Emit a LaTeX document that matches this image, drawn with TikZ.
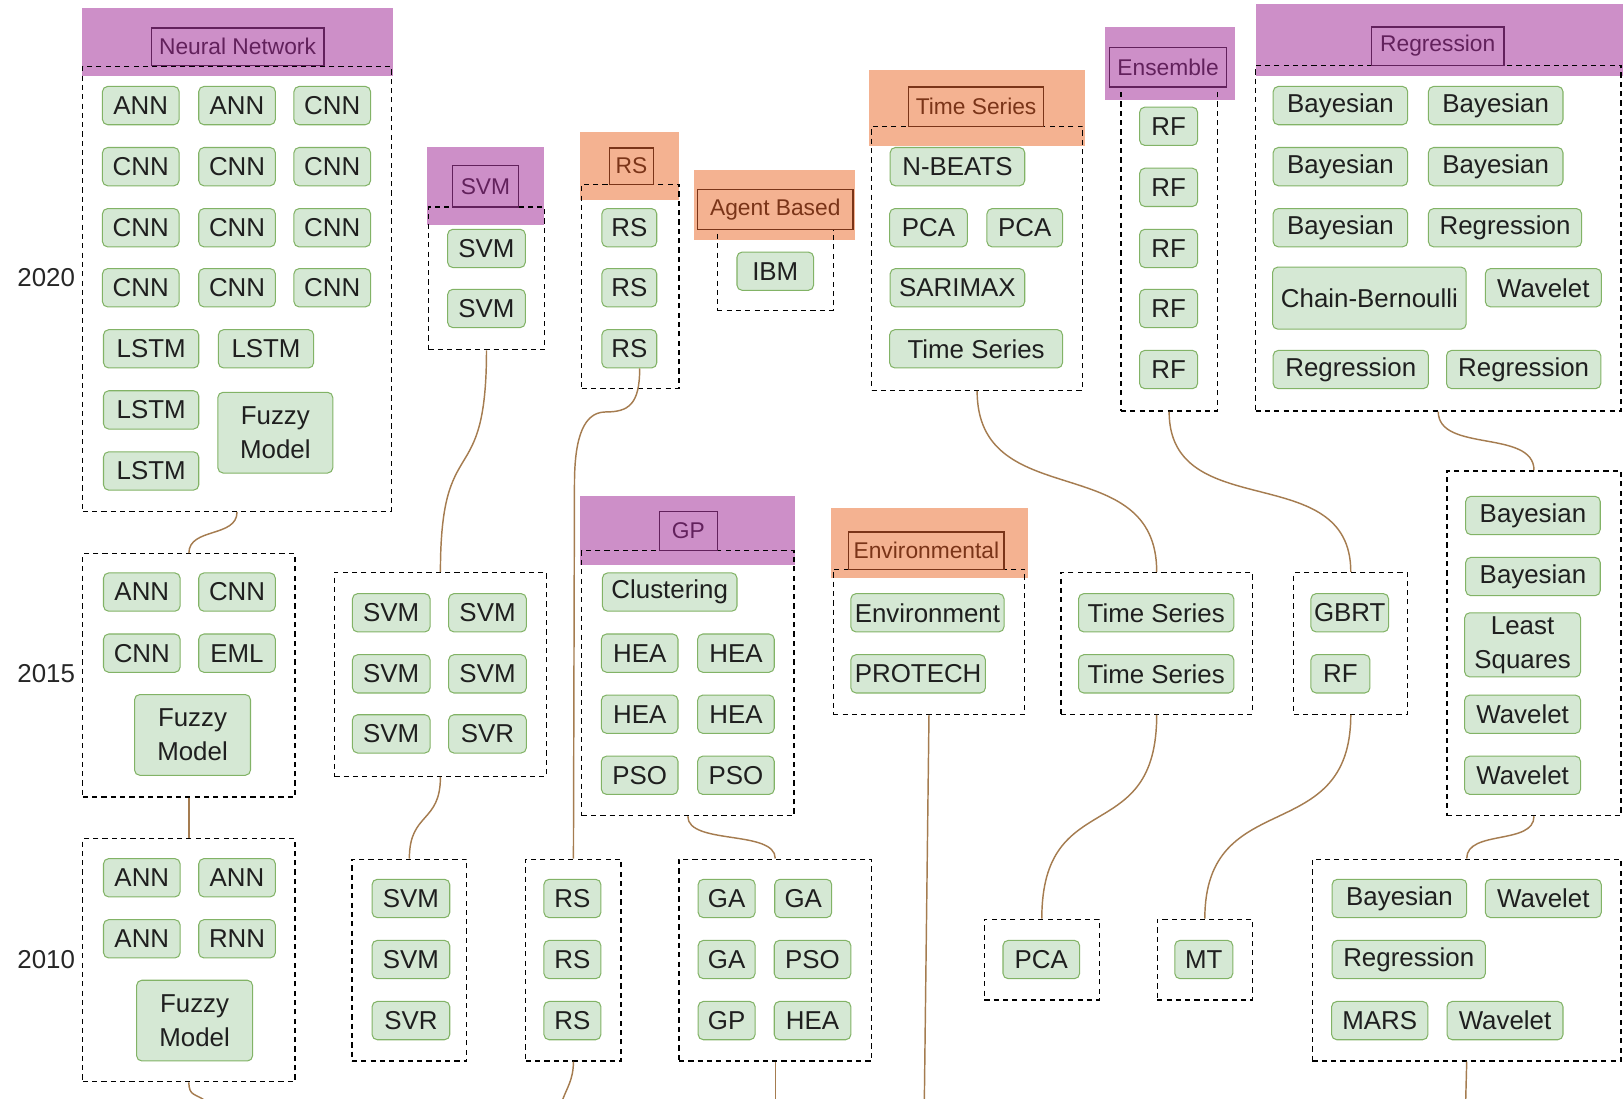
\documentclass[tikz,border=0pt]{standalone}
\usepackage{fontspec}
\setmainfont{Liberation Sans}
\usetikzlibrary{positioning}

\definecolor{lilac}{HTML}{CD8FC8}
\definecolor{salmon}{HTML}{F4B291}
\definecolor{plum}{HTML}{62215C}
\definecolor{rust}{HTML}{7A3418}
\definecolor{leaf}{HTML}{D5E8D4}
\definecolor{leafline}{HTML}{82B366}
\definecolor{twig}{HTML}{A57C50}

\tikzset{
  item/.style={draw=leafline, fill=leaf, rounded corners=5pt, line width=1pt,
    minimum width=#1, minimum height=37, inner sep=0pt, text=black!88,
    font=\fontsize{25}{33}\selectfont, align=center},
  item/.default=74,
  group/.style={draw, dash pattern=on 5pt off 4pt, line width=1.2pt, inner sep=0pt},
  title/.style={draw=#1, text=#1, line width=1.2pt, inner sep=0pt,
    font=\fontsize{22}{24}\selectfont},
  link/.style={draw=twig, line width=1.4pt},
  year/.style={anchor=east, font=\fontsize{25}{27}\selectfont, text=black!85}
}

\begin{document}
\begin{tikzpicture}[x=1pt, y=-1pt]
\useasboundingbox (0,0) rectangle (1568,1061);

\fill[lilac] (79,8) rectangle (380,73);
\fill[lilac] (413,142) rectangle (526,217);
\fill[salmon] (560,128) rectangle (656,193);
\fill[salmon] (670,164) rectangle (826,232);
\fill[salmon] (840,68) rectangle (1048,141);
\fill[lilac] (1068,26) rectangle (1193,97);
\fill[lilac] (1213,4) rectangle (1568,73);
\fill[lilac] (560,479) rectangle (768,546);
\fill[salmon] (803,491) rectangle (993,558);

\node[group, minimum width=298, minimum height=430] (nn20) at (229,279) {};
\node[group, minimum width=112, minimum height=138] (svm20) at (470,269) {};
\node[group, minimum width=94, minimum height=197] (rs20) at (609,276.5) {};
\node[group, minimum width=112, minimum height=78] (ab20) at (749,261) {};
\node[group, minimum width=204, minimum height=255] (ts20) at (944,249.5) {};
\node[group, minimum width=93, minimum height=313] (en20) at (1129.5,240.5) {};
\node[group, minimum width=353, minimum height=334] (rg20) at (1389.5,230) {};
\node[group, minimum width=205, minimum height=235] (nn15) at (182.5,652.5) {};
\node[group, minimum width=205, minimum height=197] (svm15) at (425.5,651.5) {};
\node[group, minimum width=205, minimum height=256] (gp15) at (664.5,660) {};
\node[group, minimum width=185, minimum height=140] (env15) at (897.5,620) {};
\node[group, minimum width=185, minimum height=137] (ts15) at (1117.5,621.5) {};
\node[group, minimum width=110, minimum height=137] (gb15) at (1305,621.5) {};
\node[group, minimum width=168, minimum height=333] (rg15) at (1482,621.5) {};
\node[group, minimum width=205, minimum height=235] (nn10) at (182.5,927.5) {};
\node[group, minimum width=111, minimum height=195] (svm10) at (395.5,927.5) {};
\node[group, minimum width=92, minimum height=195] (rs10) at (554,927.5) {};
\node[group, minimum width=186, minimum height=195] (ga10) at (749,927.5) {};
\node[group, minimum width=111, minimum height=78] (pca10) at (1006.5,927) {};
\node[group, minimum width=92, minimum height=78] (mt10) at (1164,927) {};
\node[group, minimum width=298, minimum height=195] (rg10) at (1417,927.5) {};

\node[title=plum, minimum width=167, minimum height=36] (tnn) at (229.5,45) {Neural Network};
\node[title=plum, minimum width=64, minimum height=40] (tsvm) at (469,180) {SVM};
\node[title=rust, minimum width=42, minimum height=35] (trs) at (610,160.5) {RS};
\node[title=rust, minimum width=150, minimum height=39] (tab) at (749,202.5) {Agent Based};
\node[title=rust, minimum width=130, minimum height=38] (tts) at (943,103) {Time Series};
\node[title=plum, minimum width=113, minimum height=38] (ten) at (1128.5,65) {Ensemble};
\node[title=plum, minimum width=128, minimum height=37] (trg) at (1389,44.5) {Regression};
\node[title=plum, minimum width=56, minimum height=38] (tgp) at (665,513) {GP};
\node[title=rust, minimum width=150, minimum height=36] (tenv) at (895,532) {Environmental};

\node[item] (a1) at (136,102) {ANN};
\node[item] (a2) at (229,102) {ANN};
\node[item] (a3) at (321,102) {CNN};
\node[item] (a4) at (136,161) {CNN};
\node[item] (a5) at (229,161) {CNN};
\node[item] (a6) at (321,161) {CNN};
\node[item] (a7) at (136,220) {CNN};
\node[item] (a8) at (229,220) {CNN};
\node[item] (a9) at (321,220) {CNN};
\node[item] (a10) at (136,278) {CNN};
\node[item] (a11) at (229,278) {CNN};
\node[item] (a12) at (321,278) {CNN};
\node[item=92] (a13) at (146,337) {LSTM};
\node[item=92] (a14) at (257,337) {LSTM};
\node[item=92] (a15) at (146,396) {LSTM};
\node[item=111, minimum height=78] (a16) at (266,418) {Fuzzy\\Model};
\node[item=92] (a17) at (146,455) {LSTM};

\node[item=75] (b1) at (470,240) {SVM};
\node[item=75] (b2) at (470,298) {SVM};

\node[item=53] (c1) at (608,220) {RS};
\node[item=53] (c2) at (608,278) {RS};
\node[item=53] (c3) at (608,337) {RS};

\node[item] (d1) at (749,262) {IBM};

\node[item=130] (e1) at (925,161) {N-BEATS};
\node[item=75] (e2) at (897,220) {PCA};
\node[item=73] (e3) at (990,220) {PCA};
\node[item=130] (e4) at (925,278) {SARIMAX};
\node[item=167] (e5) at (943,337) {Time Series};

\node[item=56] (f1) at (1129,122) {RF};
\node[item=56] (f2) at (1129,181) {RF};
\node[item=56] (f3) at (1129,240) {RF};
\node[item=56] (f4) at (1129,298) {RF};
\node[item=56] (f5) at (1129,357) {RF};

\node[item=130] (g1) at (1295,102) {Bayesian};
\node[item=130] (g2) at (1445,102) {Bayesian};
\node[item=130] (g3) at (1295,161) {Bayesian};
\node[item=130] (g4) at (1445,161) {Bayesian};
\node[item=130] (g5) at (1295,220) {Bayesian};
\node[item=148] (g6) at (1454,220) {Regression};
\node[item=187, minimum height=60] (g7) at (1323,288) {Chain-Bernoulli};
\node[item=112] (g8) at (1491,278) {Wavelet};
\node[item=150] (g9) at (1305,357) {Regression};
\node[item=149] (g10) at (1472,357) {Regression};

\node[item] (h1) at (137,572) {ANN};
\node[item] (h2) at (229,572) {CNN};
\node[item] (h3) at (137,631) {CNN};
\node[item] (h4) at (229,631) {EML};
\node[item=112, minimum height=78] (h5) at (186,710) {Fuzzy\\Model};

\node[item=75] (i1) at (378,592) {SVM};
\node[item=75] (i2) at (471,592) {SVM};
\node[item=75] (i3) at (378,651) {SVM};
\node[item=75] (i4) at (471,651) {SVM};
\node[item=75] (i5) at (378,709) {SVM};
\node[item=75] (i6) at (471,709) {SVR};

\node[item=130] (j1) at (647,572) {Clustering};
\node[item] (j2) at (618,631) {HEA};
\node[item] (j3) at (711,631) {HEA};
\node[item] (j4) at (618,690) {HEA};
\node[item] (j5) at (711,690) {HEA};
\node[item] (j6) at (618,749) {PSO};
\node[item] (j7) at (711,749) {PSO};

\node[item=148] (k1) at (896,592) {Environment};
\node[item=130] (k2) at (887,651) {PROTECH};

\node[item=150] (l1) at (1117,592) {Time Series};
\node[item=150] (l2) at (1117,651) {Time Series};

\node[item=75] (m1) at (1304,592) {GBRT};
\node[item=57] (m2) at (1295,651) {RF};

\node[item=130] (n1) at (1481,498) {Bayesian};
\node[item=130] (n2) at (1481,557) {Bayesian};
\node[item=112, minimum height=62] (n3) at (1471,623) {Least\\Squares};
\node[item=112] (n4) at (1471,690) {Wavelet};
\node[item=112] (n5) at (1471,749) {Wavelet};

\node[item] (o1) at (137,848) {ANN};
\node[item] (o2) at (229,848) {ANN};
\node[item] (o3) at (137,907) {ANN};
\node[item] (o4) at (229,907) {RNN};
\node[item=112, minimum height=78] (o5) at (188,986) {Fuzzy\\Model};

\node[item=75] (p1) at (397,868) {SVM};
\node[item=75] (p2) at (397,927) {SVM};
\node[item=75] (p3) at (397,986) {SVR};

\node[item=55] (q1) at (553,868) {RS};
\node[item=55] (q2) at (553,927) {RS};
\node[item=55] (q3) at (553,986) {RS};

\node[item=55] (r1) at (702,868) {GA};
\node[item=55] (r2) at (776,868) {GA};
\node[item=55] (r3) at (702,927) {GA};
\node[item] (r4) at (785,927) {PSO};
\node[item=55] (r5) at (702,986) {GP};
\node[item] (r6) at (785,986) {HEA};

\node[item] (s1) at (1006,927) {PCA};
\node[item=56] (t1) at (1163,927) {MT};

\node[item=130] (u1) at (1352,868) {Bayesian};
\node[item=112] (u2) at (1491,868) {Wavelet};
\node[item=148] (u3) at (1361,927) {Regression};
\node[item=93] (u4) at (1333,986) {MARS};
\node[item=112] (u5) at (1454,986) {Wavelet};

\node[year] (y20) at (76,268) {2020};
\node[year] (y15) at (76,651) {2015};
\node[year] (y10) at (76,927) {2010};

\coordinate (rsbend) at (585,398);
\coordinate (rsdown) at (555,468);
\coordinate (nnout) at (199,1064);
\coordinate (rsout) at (543,1064);
\coordinate (gaout) at (749,1064);
\coordinate (envout) at (893,1064);
\coordinate (rgout) at (1416,1064);

\draw[link] (nn20.south) .. controls +(0,25) and +(0,-25) .. (nn15.north);
\draw[link] (nn15.south) -- (nn10.north);
\draw[link] (nn10.south) .. controls +(0,14) and +(-10,-8) .. (nnout);
\draw[link] (svm20.south) .. controls +(0,140) and +(0,-140) .. (svm15.north);
\draw[link] (svm15.south) .. controls +(0,45) and +(0,-45) .. (svm10.north);
\draw[link] ([xshift=10]c3.south) .. controls +(0,35) and +(22,0) .. (rsbend)
  .. controls +(-25,0) and +(0,-35) .. (rsdown) -- (rs10.north);
\draw[link] (rs10.south) .. controls +(0,18) and +(4,-12) .. (rsout);
\draw[link] (gp15.south) .. controls +(0,28) and +(0,-28) .. (ga10.north);
\draw[link] (ga10.south) -- (gaout);
\draw[link] (env15.south) -- (envout);
\draw[link] (ts20.south) .. controls +(0,120) and +(0,-120) .. (ts15.north);
\draw[link] (ts15.south) .. controls +(0,130) and +(0,-130) .. (pca10.north);
\draw[link] (en20.south) .. controls +(0,110) and +(0,-110) .. (gb15.north);
\draw[link] (gb15.south) .. controls +(0,130) and +(0,-130) .. (mt10.north);
\draw[link] (rg20.south) .. controls +(0,40) and +(0,-40) .. (rg15.north);
\draw[link] (rg15.south) .. controls +(0,28) and +(0,-28) .. (rg10.north);
\draw[link] (rg10.south) -- (rgout);

\end{tikzpicture}
\end{document}
